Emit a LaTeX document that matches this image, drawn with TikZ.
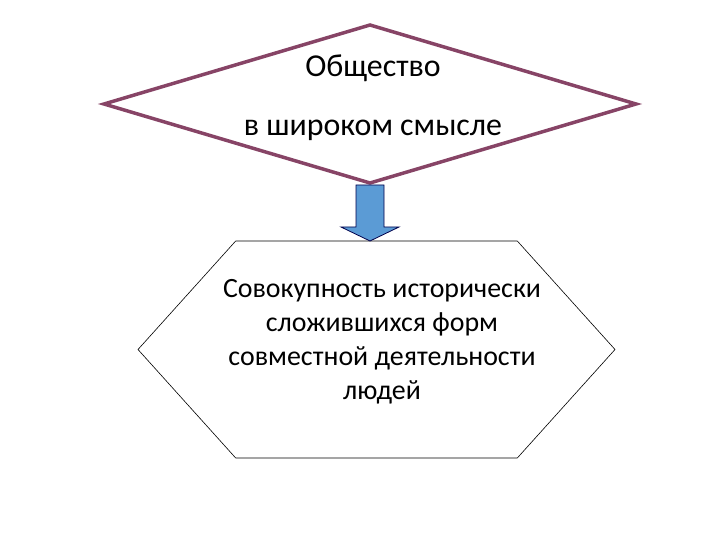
\documentclass[tikz,border=0pt]{standalone}
\usepackage{fontspec}
\setmainfont{Carlito}
\usetikzlibrary{shapes.geometric,shapes.symbols}

\definecolor{societyrim}{RGB}{135,68,102}
\definecolor{arrowblue}{RGB}{91,155,213}

\begin{document}
\begin{tikzpicture}[x=1bp,y=-1bp,
    frame/.style={inner sep=0pt,outer sep=0pt},
    caption/.style={align=center,font=\fontsize{28}{34}\selectfont},
    bigcaption/.style={align=center,font=\fontsize{32}{38}\selectfont},
    linkarrow/.style={fill=arrowblue,draw=black!70!blue,line width=0.8pt}]
  \useasboundingbox (0,0) rectangle (720,540);

  \node[diamond,frame,draw=societyrim,line width=3.5pt,fill=white,
    minimum width=532bp,minimum height=158bp] (society) at (370,104) {};
  \node[bigcaption] (societytext) at (373,97.5)
    {Общество\\[21bp]в широком смысле};

  \node[signal,signal to=west and east,signal pointer angle=96,
    frame,draw=black,line width=0.6pt,
    minimum width=477bp,minimum height=217bp] (forms) at (376.5,349.5) {};
  \node[caption] (formstext) at (382,342)
    {Совокупность исторически\\сложившихся форм\\совместной деятельности\\людей};

  % block arrow from the diamond down to the hexagon
  \coordinate (linktip) at (society.south |- forms.north);
  \draw[linkarrow] ([xshift=-14bp,yshift=-2bp]society.south)
    -- ([xshift=14bp,yshift=-2bp]society.south)
    -- ([xshift=14bp,yshift=14bp]linktip)
    -- ([xshift=29bp,yshift=14bp]linktip)
    -- (linktip)
    -- ([xshift=-29bp,yshift=14bp]linktip)
    -- ([xshift=-14bp,yshift=14bp]linktip) -- cycle;
\end{tikzpicture}
\end{document}
